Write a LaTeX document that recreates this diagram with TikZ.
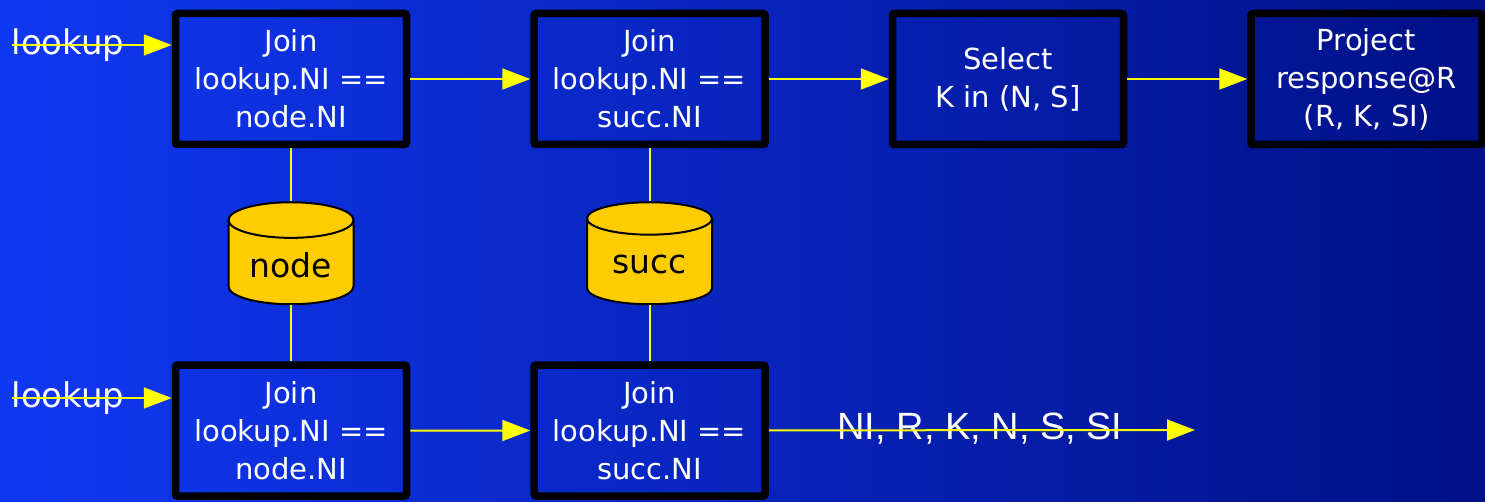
\documentclass[tikz,border=0pt]{standalone}
\usepackage{fontspec}
\setmainfont{DejaVu Sans}
\newfontfamily\listfont{Liberation Sans}
\usepackage{tikz}
\usetikzlibrary{arrows.meta, graphs, positioning, shapes.geometric}
\definecolor{bgleft}{HTML}{1038F2}
\definecolor{bgmid}{HTML}{0020C8}
\definecolor{bgright}{HTML}{001086}
\definecolor{dbyellow}{HTML}{FFCC00}
\definecolor{flow}{HTML}{FFFF00}

\begin{document}
\begin{tikzpicture}[x=1pt, y=1pt, node distance=120pt,
		op/.style={draw=black, line width=7.5pt, rounded corners=2pt, minimum width=231pt, minimum height=131pt, text=white, align=center, font=\fontsize{29}{38}\selectfont},
		dbtable/.style={cylinder, shape border rotate=90, aspect=0.4, draw=black, line width=2pt, fill=dbyellow, minimum width=125pt, minimum height=102pt, text=black, font=\fontsize{33}{33}\selectfont},
		link/.style={flow, line width=2pt},
		flowto/.style={link, -{Triangle[length=28pt, width=21pt]}}]
		\shade[left color=bgleft, middle color=bgmid, right color=bgright] (0,0) rectangle (1485,501);
		\useasboundingbox (0,0) rectangle (1485,501);
		
		\node[op] (j1) at (291,422) {Join\\lookup.NI ==\\node.NI};
		\node[op, right=of j1] (j2) {Join\\lookup.NI ==\\succ.NI};
		\node[op, right=of j2] (sel) {Select\\K in (N, S]};
		\node[op, right=of sel] (proj) {Project\\response@R\\(R, K, SI)};
		\node[dbtable, below=53pt of j1] (nodetbl) {node};
		\node[dbtable, below=53pt of j2] (succtbl) {succ};
		\node[op, below=56pt of nodetbl] (j3) {Join\\lookup.NI ==\\node.NI};
		\node[op, below=56pt of succtbl] (j4) {Join\\lookup.NI ==\\succ.NI};
		
		\node[text=white, font=\fontsize{34}{34}\selectfont] (lk1) at (68,456) {lookup};
		\node[text=white, font=\fontsize{34}{34}\selectfont] (lk2) at (68,103) {lookup};
		\node[text=white, font=\listfont\fontsize{38}{38}\selectfont] (cols) at (980,72) {NI, R, K, N, S, SI};
		\coordinate (in1) at (12,456);
		\coordinate (in2) at (12,103);
		\coordinate (out) at (1195,71);
		
		\graph[edges={link}]{
			(j1) -- (nodetbl) -- (j3);
			(j2) -- (succtbl) -- (j4)
		};
		\draw[flowto] (in1) -- (in1 -| j1.west);
		\draw[flowto] (in2) -- (in2 -| j3.west);
		\draw[flowto] (j1) -- (j2);
		\draw[flowto] (j2) -- (sel);
		\draw[flowto] (sel) -- (proj);
		\draw[flowto] (j3) -- (j4);
		\draw[flowto] (j4) -- (out);
	\end{tikzpicture}
\end{document}
